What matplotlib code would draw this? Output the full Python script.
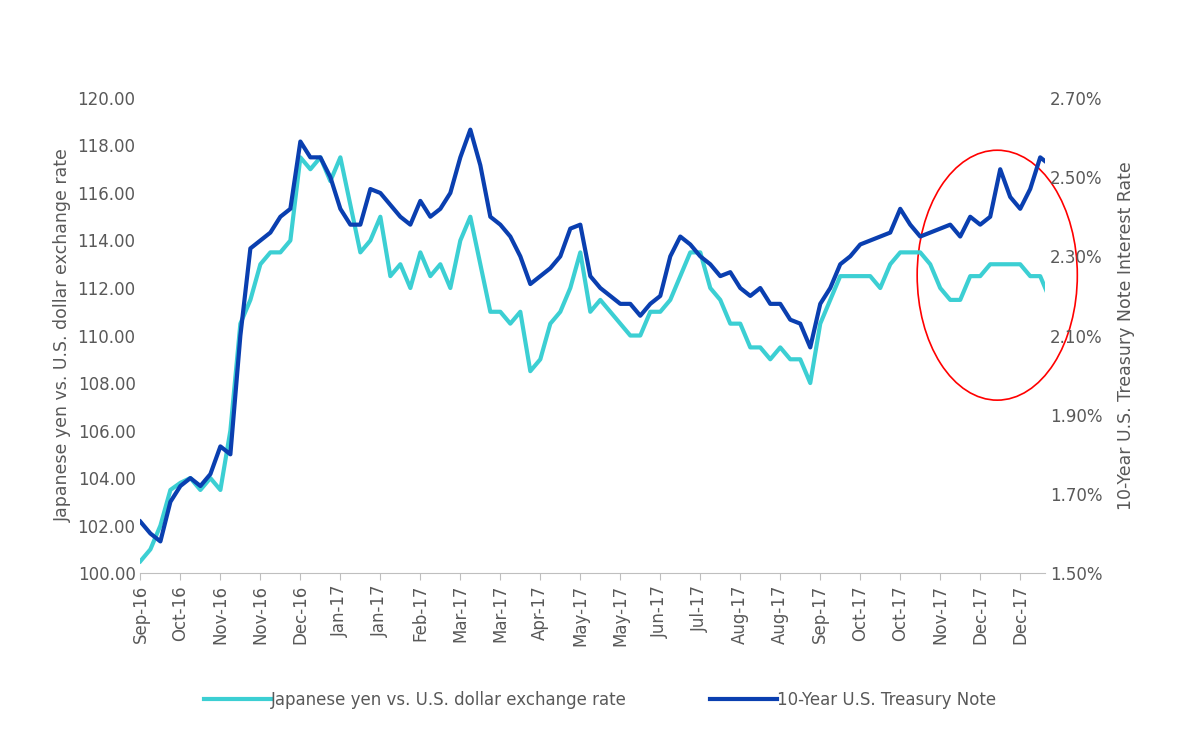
import matplotlib
matplotlib.use("Agg")
import matplotlib.pyplot as plt
from matplotlib.patches import Ellipse
import numpy as np

tick_labels = ["Sep-16", "Oct-16", "Nov-16", "Nov-16", "Dec-16", "Jan-17", "Jan-17", "Feb-17",
               "Mar-17", "Mar-17", "Apr-17", "May-17", "May-17", "Jun-17", "Jul-17", "Aug-17",
               "Aug-17", "Sep-17", "Oct-17", "Oct-17", "Nov-17", "Dec-17", "Dec-17"]

yen = [100.5, 101.0, 102.0, 103.5, 103.8, 104.0, 103.5, 104.0, 103.5, 106.0,
       110.5, 111.5, 113.0, 113.5, 113.5, 114.0, 117.5, 117.0, 117.5, 116.5,
       117.5, 115.5, 113.5, 114.0, 115.0, 112.5, 113.0, 112.0, 113.5, 112.5,
       113.0, 112.0, 114.0, 115.0, 113.0, 111.0, 111.0, 110.5, 111.0, 108.5,
       109.0, 110.5, 111.0, 112.0, 113.5, 111.0, 111.5, 111.0, 110.5, 110.0,
       110.0, 111.0, 111.0, 111.5, 112.5, 113.5, 113.5, 112.0, 111.5, 110.5,
       110.5, 109.5, 109.5, 109.0, 109.5, 109.0, 109.0, 108.0, 110.5, 111.5,
       112.5, 112.5, 112.5, 112.5, 112.0, 113.0, 113.5, 113.5, 113.5, 113.0,
       112.0, 111.5, 111.5, 112.5, 112.5, 113.0, 113.0, 113.0, 113.0, 112.5,
       112.5, 111.5]

treasury = [1.63, 1.60, 1.58, 1.68, 1.72, 1.74, 1.72, 1.75, 1.82, 1.80,
            2.10, 2.32, 2.34, 2.36, 2.40, 2.42, 2.59, 2.55, 2.55, 2.50,
            2.42, 2.38, 2.38, 2.47, 2.46, 2.43, 2.40, 2.38, 2.44, 2.40,
            2.42, 2.46, 2.55, 2.62, 2.53, 2.40, 2.38, 2.35, 2.30, 2.23,
            2.25, 2.27, 2.30, 2.37, 2.38, 2.25, 2.22, 2.20, 2.18, 2.18,
            2.15, 2.18, 2.20, 2.30, 2.35, 2.33, 2.30, 2.28, 2.25, 2.26,
            2.22, 2.20, 2.22, 2.18, 2.18, 2.14, 2.13, 2.07, 2.18, 2.22,
            2.28, 2.30, 2.33, 2.34, 2.35, 2.36, 2.42, 2.38, 2.35, 2.36,
            2.37, 2.38, 2.35, 2.40, 2.38, 2.40, 2.52, 2.45, 2.42, 2.47,
            2.55, 2.53]

x = np.arange(len(yen))

fig = plt.figure(figsize=(12, 7.31), dpi=100)
ax = fig.add_axes([0.117, 0.216, 0.754, 0.65])
ax2 = ax.twinx()

grey = "#595959"
l1, = ax.plot(x, yen, color="#3CCFD3", lw=3, label="Japanese yen vs. U.S. dollar exchange rate")
l2, = ax2.plot(x, treasury, color="#0A3FB0", lw=3, label="10-Year U.S. Treasury Note")

ax.set_ylim(100, 120)
ax.set_yticks(np.arange(100, 120.1, 2))
ax.set_yticklabels([f"{v:.2f}" for v in np.arange(100, 120.1, 2)])
ax2.set_ylim(1.5, 2.7)
rt = np.arange(1.5, 2.71, 0.2)
ax2.set_yticks(rt)
ax2.set_yticklabels([f"{v:.2f}%" for v in rt])

ax.set_xlim(0, 90.5)
ax.set_xticks([4.0 * i for i in range(len(tick_labels))])
ax.set_xticklabels(tick_labels, rotation=90)

for a in (ax, ax2):
    for s in ("top", "left", "right"):
        a.spines[s].set_visible(False)
    a.tick_params(colors=grey, labelsize=12, length=0)
ax.spines["bottom"].set_color("#BFBFBF")
ax2.spines["bottom"].set_visible(False)
ax.tick_params(axis="x", length=5, color="#BFBFBF")

ax.set_ylabel("Japanese yen vs. U.S. dollar exchange rate", color=grey, fontsize=12.5)
ax2.set_ylabel("10-Year U.S. Treasury Note Interest Rate", color=grey, fontsize=12.5, labelpad=10)

ax.add_patch(Ellipse((0.947, 0.627), 0.177, 0.526, transform=ax.transAxes,
                     fill=False, edgecolor="red", lw=1.2, clip_on=False))

fig.legend([l1, l2], [l1.get_label(), l2.get_label()], loc="lower center",
           bbox_to_anchor=(0.5, 0.01), ncol=2, frameon=False, fontsize=12,
           labelcolor=grey, handlelength=4, handletextpad=0, columnspacing=5)

fig.savefig("out.png", dpi=100)
